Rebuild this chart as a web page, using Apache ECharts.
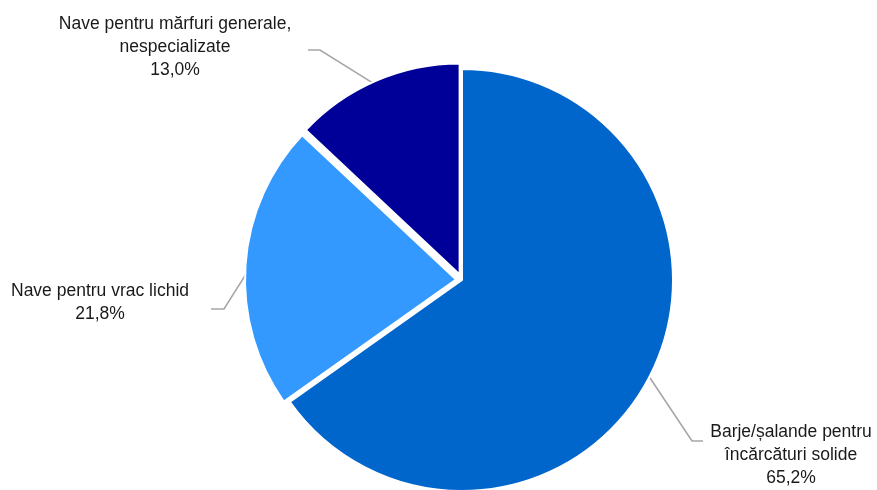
<!DOCTYPE html>
<html>
<head>
<meta charset="utf-8">
<script src="https://cdn.jsdelivr.net/npm/echarts@6/dist/echarts.min.js"></script>
<style>
html,body{margin:0;padding:0;background:#fff;}
#chart{width:877px;height:490px;}
</style>
</head>
<body>
<div id="chart"></div>
<script>
const categories = [
  'Barje/șalande pentru\nîncărcături solide',
  'Nave pentru vrac lichid',
  'Nave pentru mărfuri generale,\nnespecializate'
];
const values = [65.2, 21.8, 13.0];
const colors = ['#0066CC', '#3399FF', '#000099'];
const exploded = [false, true, true];

// label anchor (text centre) and leader-line elbow/end per slice
const labelPos = [
  {x: 791, y: 455, elbow: [692, 441], end: [703, 441]},
  {x: 175, y: 303, elbow: [224, 309], end: [211, 309]},
  {x: 175, y: 47,  elbow: [320, 50],  end: [308, 50]}
];
labelPos[1].x = 100;

const CENTER = [462, 280];
const RADIUS = 211;

const chart = echarts.init(document.getElementById('chart'));
chart.setOption({
  animation: false,
  series: [{
    // visible slices (two smaller ones slightly exploded)
    type: 'pie',
    center: CENTER,
    radius: RADIUS,
    startAngle: 90,
    clockwise: true,
    selectedMode: 'multiple',
    selectedOffset: 6,
    emphasis: {disabled: true},
    itemStyle: {borderColor: '#ffffff', borderWidth: 2},
    label: {show: false},
    labelLine: {show: false},
    data: categories.map((c, i) => ({
      name: c,
      value: values[i],
      selected: exploded[i],
      itemStyle: {color: colors[i]}
    }))
  }, {
    // labels with leader lines
    type: 'pie',
    center: CENTER,
    radius: RADIUS,
    startAngle: 90,
    clockwise: true,
    silent: true,
    avoidLabelOverlap: false,
    emphasis: {disabled: true},
    itemStyle: {color: 'rgba(0,0,0,0)', borderWidth: 0},
    label: {
      show: true,
      position: 'outside',
      fontFamily: 'Liberation Sans, Arial, sans-serif',
      fontSize: 17.5,
      lineHeight: 23,
      color: '#1a1a1a',
      align: 'center',
      formatter: p => p.name + '\n' + p.value.toFixed(1).replace('.', ',') + '%'
    },
    labelLine: {
      show: true,
      length: 20,
      length2: 10,
      lineStyle: {color: '#A6A6A6', width: 1.6}
    },
    labelLayout: function (params) {
      const lp = labelPos[params.dataIndex];
      const start = params.labelLinePoints ? params.labelLinePoints[0] : lp.elbow;
      return {
        x: lp.x,
        y: lp.y,
        align: 'center',
        verticalAlign: 'middle',
        labelLinePoints: [start, lp.elbow, lp.end]
      };
    },
    data: categories.map((c, i) => ({name: c, value: values[i]}))
  }]
});
</script>
</body>
</html>
